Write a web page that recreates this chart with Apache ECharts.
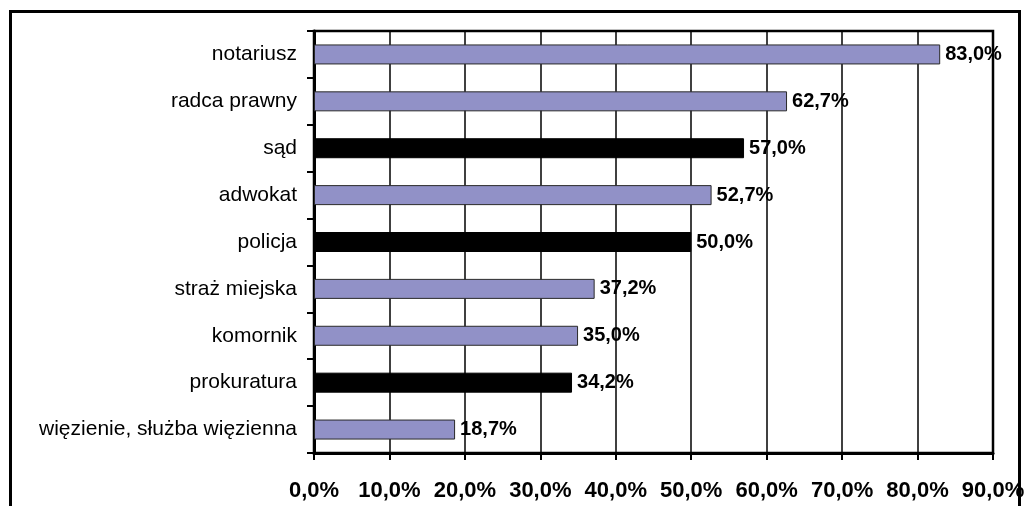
<!DOCTYPE html>
<html>
<head>
<meta charset="utf-8">
<script src="https://cdn.jsdelivr.net/npm/echarts@6/dist/echarts.min.js"></script>
<style>
  html, body { margin: 0; padding: 0; background: #fff; }
  #chart { width: 1029px; height: 506px; }
</style>
</head>
<body>
<div id="chart"></div>
<script>
// Institutions, top to bottom
const categories = [
  'notariusz',
  'radca prawny',
  'sąd',
  'adwokat',
  'policja',
  'straż miejska',
  'komornik',
  'prokuratura',
  'więzienie, służba więzienna'
];
// Share of answers, in percent
const values = [83.0, 62.7, 57.0, 52.7, 50.0, 37.2, 35.0, 34.2, 18.7];
// Institutions drawn in black
const highlighted = ['sąd', 'policja', 'prokuratura'];
// Value axis ticks
const tickValues = [0, 10, 20, 30, 40, 50, 60, 70, 80, 90];

const FONT = 'Arial, "Liberation Sans", sans-serif';
const fmt = v => v.toFixed(1).replace('.', ',') + '%';

const chart = echarts.init(document.getElementById('chart'));
chart.setOption({
  animation: false,
  backgroundColor: '#fff',
  graphic: [{
    type: 'rect',
    shape: { x: 10.5, y: 11.5, width: 1009, height: 520 },
    style: { fill: 'none', stroke: '#000', lineWidth: 3 },
    silent: true
  }],
  grid: {
    left: 314, top: 31, width: 679, height: 422,
    show: true, borderColor: '#000', borderWidth: 2.5,
    backgroundColor: 'transparent'
  },
  xAxis: {
    type: 'value',
    min: tickValues[0],
    max: tickValues[tickValues.length - 1],
    interval: 10,
    axisLine: { show: true, lineStyle: { color: '#000', width: 3 } },
    axisTick: { show: true, length: 7, lineStyle: { color: '#000', width: 2 } },
    splitLine: { show: true, lineStyle: { color: '#000', width: 1.5 } },
    axisLabel: {
      margin: 27,
      color: '#000',
      fontFamily: FONT,
      fontWeight: 'bold',
      fontSize: 22,
      formatter: fmt
    }
  },
  yAxis: {
    type: 'category',
    inverse: true,
    data: categories,
    axisLine: { show: true, lineStyle: { color: '#000', width: 3 } },
    axisTick: { show: true, length: 7, lineStyle: { color: '#000', width: 2 } },
    axisLabel: {
      margin: 17,
      color: '#000',
      fontFamily: FONT,
      fontSize: 21
    }
  },
  series: [{
    type: 'bar',
    barWidth: 20,
    data: values.map((v, i) => ({
      value: v,
      itemStyle: highlighted.includes(categories[i])
        ? { color: '#000', borderColor: '#000', borderWidth: 1 }
        : { color: '#9191C7', borderColor: '#2a2a2a', borderWidth: 1 }
    })),
    label: {
      show: true,
      position: 'right',
      distance: 5,
      color: '#000',
      fontFamily: FONT,
      fontWeight: 'bold',
      fontSize: 20,
      formatter: p => fmt(p.value)
    }
  }]
});
</script>
</body>
</html>
